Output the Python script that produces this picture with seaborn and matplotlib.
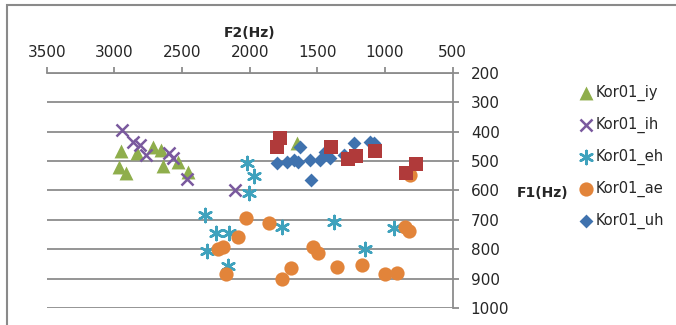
"""Vowel formant chart (F1 vs F2) for Kor01 speaker."""

import matplotlib
matplotlib.use("Agg")
import matplotlib.pyplot as plt
from matplotlib.patches import Rectangle
import seaborn as sns

# F2 / F1 values (Hz) per vowel
iy_f2 = [2953, 2963, 2913, 2834, 2712, 2657, 2642, 2527, 2453, 1651]
iy_f1 = [465, 522, 542, 474, 454, 463, 517, 503, 539, 440]

ih_f2 = [2941, 2860, 2810, 2766, 2593, 2568, 2465, 2107]
ih_f1 = [395, 437, 446, 481, 472, 491, 561, 599]

eh_f2 = [2021, 1972, 2005, 2329, 2248, 2150, 2317, 2164, 1762, 1380, 1151, 937]
eh_f1 = [508, 551, 609, 684, 744, 744, 805, 857, 724, 707, 800, 727]

ae_f2 = [2026, 1861, 2090, 2194, 2231, 2174, 1762, 1695, 1530, 1495,
         1355, 1170, 998, 912, 850, 826, 815]
ae_f1 = [693, 710, 760, 792, 801, 886, 903, 863, 792, 812,
         860, 854, 886, 880, 726, 737, 548]

uh_f2 = [1795, 1725, 1676, 1640, 1627, 1553, 1479, 1442, 1410, 1545,
         1306, 1232, 1110, 1085]
uh_f1 = [506, 503, 497, 503, 454, 497, 497, 469, 491, 565,
         480, 438, 435, 438]

# sixth series (its legend entry is cut off in the original)
uw_f2 = [1775, 1795, 1400, 1277, 1212, 1077, 771, 845]
uw_f1 = [423, 452, 454, 495, 483, 465, 510, 540]

x_ticks = [3500, 3000, 2500, 2000, 1500, 1000, 500]
y_ticks = [200, 300, 400, 500, 600, 700, 800, 900, 1000]

GRAY = "#8c8c8c"

sns.set_style("white")
plt.rcParams["font.family"] = ["DejaVu Sans"]
plt.rcParams["font.size"] = 10.5

fig = plt.figure(figsize=(6.76, 3.25), dpi=100)
ax = fig.add_axes([0.0691, 0.0523, 0.6006, 0.724])

series = [
    ("Kor01_iy", iy_f2, iy_f1, "^", "#8FAE4C", 100, {"linewidth": 0}),
    ("Kor01_ih", ih_f2, ih_f1, "x", "#7A5A9E", 75, {"linewidth": 1.8}),
    ("Kor01_eh", eh_f2, eh_f1, (6, 2, 0), "#3FA2BD", 90, {"linewidth": 1.8}),
    ("Kor01_ae", ae_f2, ae_f1, "o", "#E2843A", 105, {"linewidth": 0}),
    ("Kor01_uh", uh_f2, uh_f1, "D", "#3F72AE", 50, {"linewidth": 0}),
    ("_nolegend_", uw_f2, uw_f1, "s", "#B03A3A", 110, {"linewidth": 0}),
]
for name, xs, ys, mk, col, size, kw in series:
    sns.scatterplot(x=xs, y=ys, marker=mk, color=col, s=size, label=name,
                    ax=ax, zorder=3, **kw)

ax.set_xlim(3500, 500)
ax.set_ylim(1000, 200)
ax.set_xticks(x_ticks)
ax.set_yticks(y_ticks)
ax.xaxis.tick_top()
ax.yaxis.tick_right()
ax.set_xlabel("")
ax.set_ylabel("")

for side in ["left", "bottom"]:
    ax.spines[side].set_visible(False)
for side in ["top", "right"]:
    ax.spines[side].set_color(GRAY)
    ax.spines[side].set_linewidth(1.3)

ax.yaxis.grid(True, color=GRAY, linewidth=1.3)
ax.xaxis.grid(False)
ax.tick_params(axis="x", direction="out", length=4, width=1.3, color=GRAY,
               pad=5, labelsize=11)
ax.tick_params(axis="y", direction="out", length=4, width=1.3, color=GRAY,
               pad=9, labelsize=11)

fig.text(250 / 676, 1 - 33 / 325, "F2(Hz)", ha="center", va="center",
         fontweight="bold", fontsize=10)
fig.text(543 / 676, 1 - 193 / 325, "F1(Hz)", ha="center", va="center",
         fontweight="bold", fontsize=10)

ax.legend(loc="upper left", bbox_to_anchor=(571 / 676, 1 - 78 / 325),
          bbox_transform=fig.transFigure, frameon=False, handlelength=1.0,
          handletextpad=0.2, labelspacing=1.08, borderpad=0, fontsize=10.5)

# outer chart border
fig.patches.append(Rectangle((7 / 676, -0.1), 1.2, 1 - 5 / 325 + 0.1, fill=False,
                             edgecolor="#8a8a8a", linewidth=1.5,
                             transform=fig.transFigure, figure=fig))

fig.savefig("out.png", dpi=100)
plt.close()
